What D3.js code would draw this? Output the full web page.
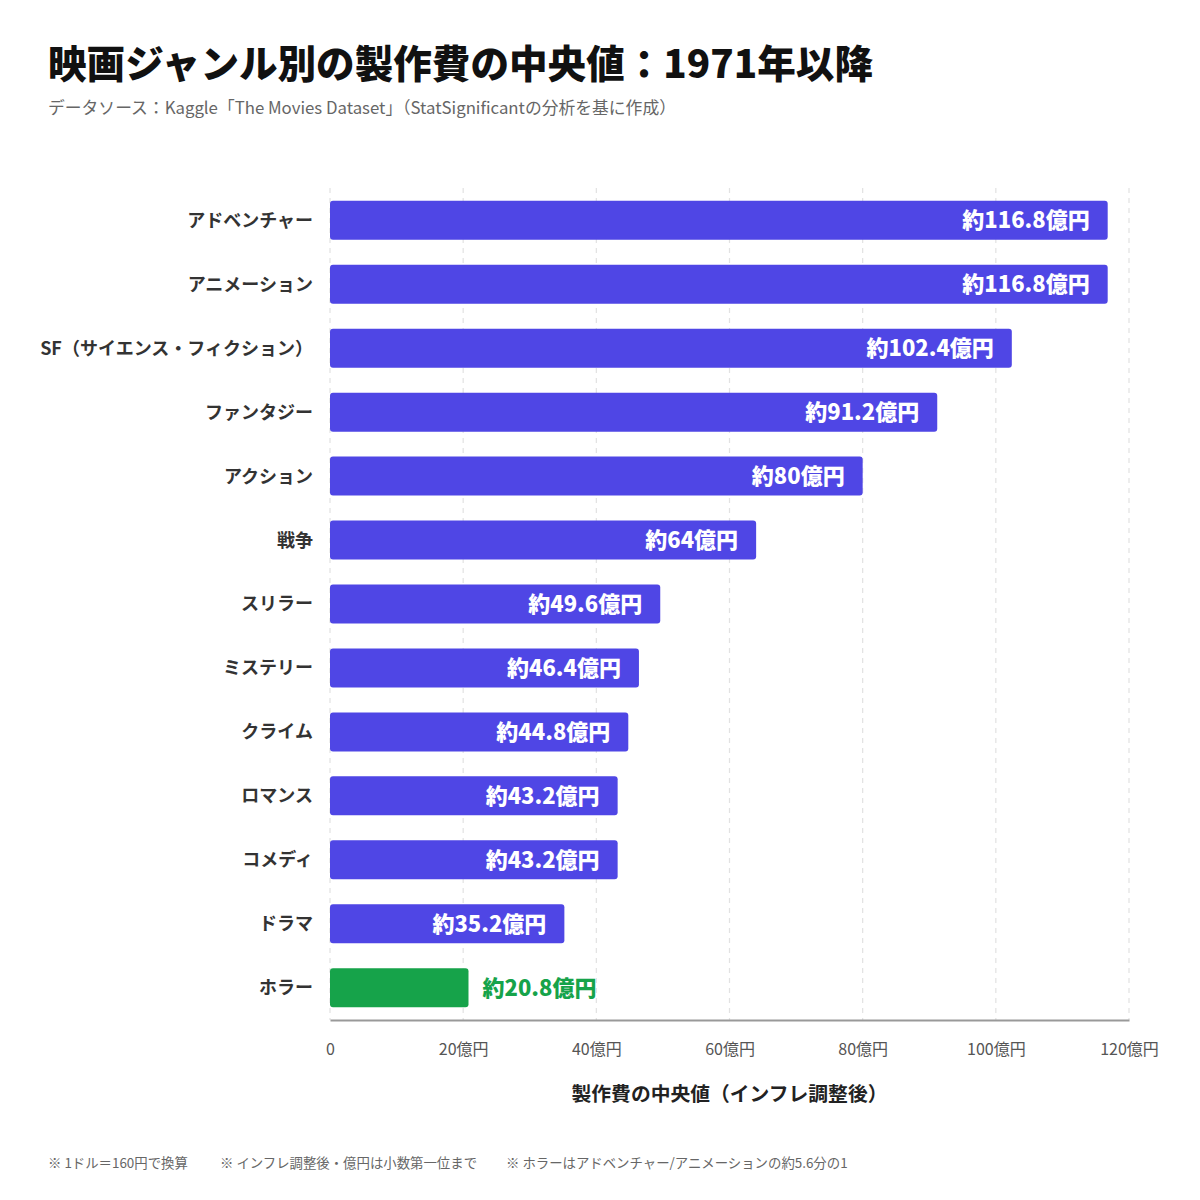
<!DOCTYPE html>
<html>
<head>
<meta charset="utf-8">
<script src="https://cdn.jsdelivr.net/npm/d3@7"></script>
<style>
  body { margin: 0; background: #fff; }
  svg text { font-family: "Noto Sans CJK JP", "Noto Sans", sans-serif; }
</style>
</head>
<body>
<svg id="chart" width="1200" height="1200"></svg>
<script>
// data
const genres = ['アドベンチャー', 'アニメーション', 'SF（サイエンス・フィクション）', 'ファンタジー', 'アクション', '戦争',
  'スリラー', 'ミステリー', 'クライム', 'ロマンス', 'コメディ', 'ドラマ', 'ホラー']
const budgets = [116.8, 116.8, 102.4, 91.2, 80, 64, 49.6, 46.4, 44.8, 43.2, 43.2, 35.2, 20.8]
const highlight = 'ホラー'
const xTicks = [0, 20, 40, 60, 80, 100, 120]
const notes = ['※ 1ドル＝160円で換算', '※ インフレ調整後・億円は小数第一位まで', '※ ホラーはアドベンチャー/アニメーションの約5.6分の1']

const rows = genres.map((g, i) => ({ genre: g, value: budgets[i] }))

const svg = d3.select('#chart')
const plotL = 330, plotR = 1129, plotT = 188, plotB = 1020

const x = d3.scaleLinear().domain([0, 120]).range([plotL, plotR])
const y = d3.scaleBand().domain(genres).range([plotT, plotB])
  .paddingInner(0.39).paddingOuter(0.2).align(0.5)

const fmt = v => `約${v}億円`

// title + subtitle
svg.append('text')
  .attr('x', 48).attr('y', 78)
  .attr('font-size', 38.6).attr('font-weight', 900).attr('fill', '#111')
  .text('映画ジャンル別の製作費の中央値：1971年以降')

svg.append('text')
  .attr('x', 48).attr('y', 114)
  .attr('font-size', 16.8).attr('fill', '#666')
  .text('データソース：Kaggle「The Movies Dataset」（StatSignificantの分析を基に作成）')

// grid
svg.append('g')
  .selectAll('line')
  .data(xTicks)
  .join('line')
  .attr('x1', d => x(d)).attr('x2', d => x(d))
  .attr('y1', plotT).attr('y2', plotB)
  .attr('stroke', '#e2e2e2')
  .attr('stroke-width', 1.2)
  .attr('stroke-dasharray', '5,5')

// bars
svg.append('g')
  .selectAll('rect')
  .data(rows)
  .join('rect')
  .attr('x', x(0))
  .attr('y', d => y(d.genre))
  .attr('width', d => x(d.value) - x(0))
  .attr('height', y.bandwidth())
  .attr('rx', 3)
  .attr('fill', d => d.genre === highlight ? '#16A34A' : '#4F46E5')

// value labels
svg.append('g')
  .selectAll('text')
  .data(rows)
  .join('text')
  .attr('x', d => d.genre === highlight ? x(d.value) + 14 : x(d.value) - 18)
  .attr('y', d => y(d.genre) + y.bandwidth() / 2)
  .attr('dy', '0.36em')
  .attr('text-anchor', d => d.genre === highlight ? 'start' : 'end')
  .attr('font-size', 22).attr('font-weight', 900)
  .attr('fill', d => d.genre === highlight ? '#16A34A' : '#fff')
  .text(d => fmt(d.value))

// category labels
svg.append('g')
  .selectAll('text')
  .data(rows)
  .join('text')
  .attr('x', plotL - 17)
  .attr('y', d => y(d.genre) + y.bandwidth() / 2)
  .attr('dy', '0.36em')
  .attr('text-anchor', 'end')
  .attr('font-size', 18).attr('font-weight', 700)
  .attr('fill', '#333')
  .text(d => d.genre)

// x axis
const xAxis = svg.append('g')
  .attr('transform', `translate(0,${plotB})`)
  .call(d3.axisBottom(x).tickValues(xTicks).tickSize(0).tickPadding(24)
    .tickFormat(d => d === 0 ? '0' : `${d}億円`))
xAxis.select('.domain').attr('stroke', '#999').attr('stroke-width', 2)
xAxis.selectAll('text')
  .attr('font-size', 16).attr('fill', '#555')
  .style('font-family', '"Noto Sans CJK JP", sans-serif')

svg.append('text')
  .attr('x', (plotL + plotR) / 2).attr('y', 1101)
  .attr('text-anchor', 'middle')
  .attr('font-size', 19.8).attr('font-weight', 700).attr('fill', '#222')
  .text('製作費の中央値（インフレ調整後）')

// footer
const noteX = [48, 220, 506]
svg.append('g')
  .selectAll('text')
  .data(notes)
  .join('text')
  .attr('x', (d, i) => noteX[i]).attr('y', 1168)
  .attr('font-size', 13.4).attr('fill', '#666')
  .text(d => d)
</script>
</body>
</html>
